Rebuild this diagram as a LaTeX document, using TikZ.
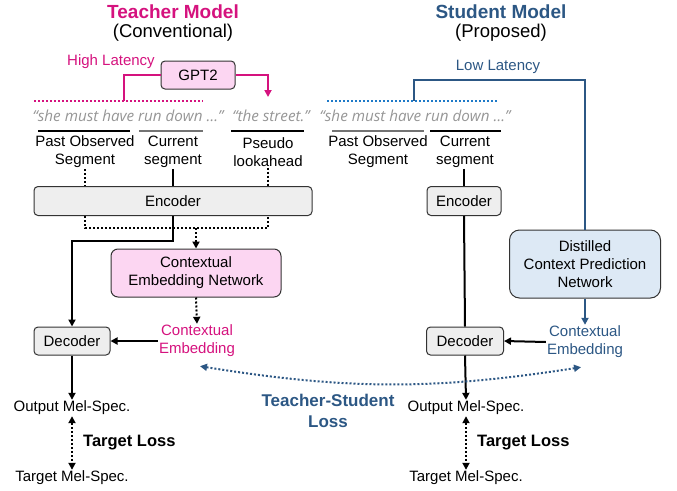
\documentclass[tikz,border=0pt]{standalone}
\usepackage{fontspec}
\setmainfont{Liberation Sans}
\newfontfamily\quotefont{Open Sans}
\usepackage{tikz}
\usetikzlibrary{calc,shapes,positioning}
\usetikzlibrary{arrows.meta}
\tikzset{>={Triangle[width=7pt,length=7pt]}}

\definecolor{tmag}{RGB}{213,18,126}
\definecolor{sblue}{RGB}{44,87,132}
\definecolor{sbright}{RGB}{30,122,200}
\definecolor{pinkfill}{RGB}{252,214,242}
\definecolor{bluefill}{RGB}{221,233,245}
\definecolor{grayfill}{RGB}{238,238,238}
\definecolor{quotegray}{RGB}{150,150,150}

\begin{document}
\begin{tikzpicture}[x=1pt,y=-1pt]
      \tikzstyle{bnode} = [draw=black!80, line width=1pt, rectangle, rounded corners = 4pt, align=center, inner sep = 2pt, font=\fontsize{15}{18}\selectfont]
      \tikzstyle{lnode} = [align=center, inner sep = 1pt, font=\fontsize{15}{18}\selectfont]
      \tikzstyle{qnode} = [inner sep = 1pt, text=quotegray, font=\fontsize{15.2}{18}\selectfont\quotefont\itshape]
      \tikzstyle{title} = [inner sep = 1pt, font=\fontsize{19}{22}\selectfont\bfseries]
      \tikzstyle{line} = [line width=2pt]
      \tikzstyle{dotline} = [line width=2pt, dash pattern=on 2pt off 2pt]

      \useasboundingbox (0,0) rectangle (677,490);

      % titles
      \node[title, text=tmag] (t-title) at (173,12) {Teacher Model};
      \node[lnode, font=\fontsize{18.5}{22}\selectfont] (t-sub) at (173,33) {(Conventional)};
      \node[title, text=sblue] (s-title) at (501,12) {Student Model};
      \node[lnode, font=\fontsize{18.5}{22}\selectfont] (s-sub) at (501,33) {(Proposed)};

      % teacher side
      \node[bnode, fill=pinkfill, minimum width=74pt, minimum height=28pt] (t-gpt) at (198,75) {GPT2};
      \node[lnode, text=tmag] (t-high) at (111,62) {High Latency};
      \coordinate (t-ctx) at (124,101);
      \coordinate (t-pla) at (268,97);
      \draw[dotline, tmag] (34,101) -- (203,101);
      \node[qnode] (t-q1) at (128,116) {“she must have run down …”};
      \node[qnode] (t-q2) at (271,116) {“the street.”};
      \draw[line width=1.5pt] (38,131) -- (130,131);
      \draw[line width=1.5pt, black!55] (139,131) -- (203,131);
      \draw[line width=1.5pt] (231,131) -- (304,131);
      \node[lnode] (t-past) at (85,152) {Past Observed\\Segment};
      \node[lnode] (t-cur) at (173,152) {Current\\segment};
      \node[lnode] (t-look) at (268,152) {Pseudo\\lookahead};
      \node[bnode, fill=grayfill, minimum width=278pt, minimum height=29pt] (t-enc) at (173,201) {Encoder};
      \coordinate (t-mrg) at (196,228);
      \node[bnode, fill=pinkfill, rounded corners=7pt, minimum width=170pt, minimum height=48pt] (t-cen) at (196,273) {Contextual\\Embedding Network};
      \node[lnode, text=tmag] (t-emb) at (197,341) {Contextual\\Embedding};
      \node[bnode, fill=grayfill, minimum width=76pt, minimum height=28pt] (t-dec) at (72,341) {Decoder};
      \node[lnode] (t-out) at (72,408) {Output Mel-Spec.};
      \node[lnode] (t-tgt) at (72,478) {Target Mel-Spec.};
      \node[lnode, anchor=west, font=\fontsize{16.5}{20}\selectfont\bfseries] (t-loss) at (82,443) {Target Loss};

      % student side
      \node[lnode, text=sblue] (s-low) at (498,67) {Low Latency};
      \coordinate (s-ctx) at (414,101);
      \draw[dotline, sbright] (327,101) -- (498,101);
      \node[qnode] (s-q1) at (415,116) {“she must have run down …”};
      \draw[line width=1.5pt, black!55] (332,131) -- (424,131);
      \draw[line width=1.5pt] (430,131) -- (501,131);
      \node[lnode] (s-past) at (378,152) {Past Observed\\Segment};
      \node[lnode] (s-cur) at (465,152) {Current\\segment};
      \node[bnode, fill=grayfill, minimum width=74pt, minimum height=29pt] (s-enc) at (464,201) {Encoder};
      \node[bnode, fill=bluefill, rounded corners=10pt, minimum width=151pt, minimum height=68pt] (s-dcp) at (585,264) {Distilled\\Context Prediction\\Network};
      \node[lnode, text=sblue] (s-emb) at (585,342) {Contextual\\Embedding};
      \node[bnode, fill=grayfill, minimum width=77pt, minimum height=28pt] (s-dec) at (465,341) {Decoder};
      \node[lnode] (s-out) at (466,408) {Output Mel-Spec.};
      \node[lnode] (s-tgt) at (466,478) {Target Mel-Spec.};
      \node[lnode, anchor=west, font=\fontsize{16.5}{20}\selectfont\bfseries] (s-loss) at (476,443) {Target Loss};

      \node[lnode, text=sblue, font=\fontsize{17}{21}\selectfont\bfseries] (ts-loss) at (328,411) {Teacher-Student\\Loss};

      % edge gpt2
      \draw[line, tmag] (t-gpt.west) -| (t-ctx);
      \draw[line, tmag, ->] (t-gpt.east) -| (t-pla);

      % edge labels to encoder
      \draw[dotline] (t-past.south) -- (t-past.south |- t-enc.north);
      \draw[line] (t-cur.south) -- (t-enc.north);
      \draw[dotline] (t-look.south) -- (t-look.south |- t-enc.north);
      \draw[line] (s-cur.south -| s-enc) -- (s-enc.north);

      % edge encoder to context and decoder
      \draw[dotline] (t-past |- t-enc.south) |- (t-mrg) -| (t-look |- t-enc.south);
      \draw[dotline, ->] (t-mrg) -- (t-cen.north);
      \draw[line, ->] (t-enc.south) -- ++(0,25) -| (t-dec.north);
      \draw[dotline, ->] (t-cen.south) -- (t-emb.north);
      \draw[line, ->] (t-emb.west) -- (t-dec.east);
      \draw[line] (s-enc.south) -- (s-dec.north);
      \draw[line, sblue] (s-ctx) -- ++(0,-21) -| (s-dcp.north);
      \draw[line, sblue, ->] (s-dcp.south) -- (s-emb.north);
      \draw[line, ->] (s-emb.west) -- (s-dec.east);

      % edge outputs
      \draw[line, ->] (t-dec.south) -- (t-out.north);
      \draw[dotline, <->] (t-out.south) -- (t-tgt.north);
      \draw[line, ->] (s-dec.south) -- (s-out.north);
      \draw[dotline, <->] (s-out.south) -- (s-tgt.north);

      % teacher-student loss
      \draw[dotline, sblue, <->] ($(t-emb.south)+(3,8)$) to[bend right=9] ($(s-emb.south)+(-4,8)$);
\end{tikzpicture}
\end{document}
